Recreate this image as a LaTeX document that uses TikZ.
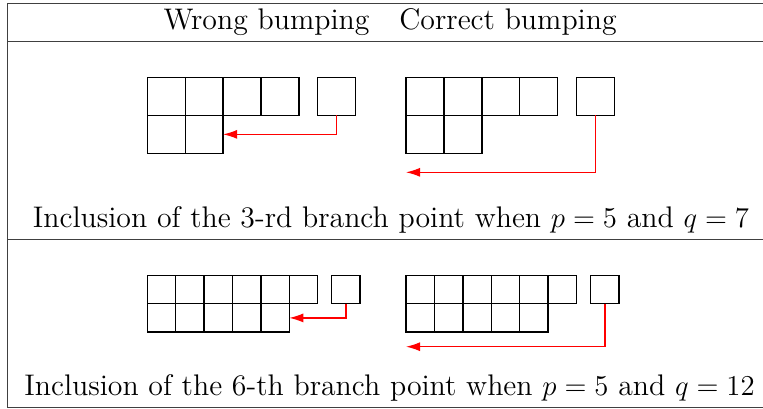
\documentclass[tikz,border=0pt]{standalone}
\usepackage{amsmath}
\usetikzlibrary{arrows.meta,positioning}
\definecolor{bump}{HTML}{FF0000}

\begin{document}
\begin{tikzpicture}[x=0.5pt, y=-0.5pt,
  big/.style={draw, line width=0.7pt, minimum size=18.95pt, inner sep=0pt, outer sep=0pt, anchor=north west},
  small/.style={big, minimum size=14.2pt},
  lbl/.style={font=\fontsize{14.9}{17.5}\selectfont, inner sep=0pt},
  arr/.style={-{Latex[length=7pt,width=4.5pt]}, line width=0.6pt, bump},
  rule/.style={line width=0.5pt, black!75}]
  \useasboundingbox (0,0) rectangle (763,408);
  % table frame
  \draw[rule] (763,3.7) -- (7.3,3.7) -- (7.3,407) -- (763,407);
  \draw[rule] (7.3,41.3) -- (763,41.3);
  \draw[rule] (7.3,239) -- (763,239);
  \node[lbl] (hw) at (266.5,22) {Wrong bumping};
  \node[lbl] (hc) at (508,22) {Correct bumping};
  % 3-rd branch point
  \foreach \i in {1,...,4} {
    \node[big] (wa\i) at (147.3+37.9*\i-37.9,77.5) {};
    \node[big] (ca\i) at (406+37.9*\i-37.9,77.5) {};
  }
  \foreach \i in {1,2} {
    \node[big] (wb\i) at (147.3+37.9*\i-37.9,115.4) {};
    \node[big] (cb\i) at (406+37.9*\i-37.9,115.4) {};
  }
  \node[big] (wn) at (317.7,77.5) {};
  \node[big] (cn) at (576.7,77.5) {};
  \coordinate (cend) at (406,172.3);
  \draw[arr] (wn.south) |- (wb2.east);
  \draw[arr] (cn.south) |- (cend);
  \node[lbl] (cap1) at (391,220) {Inclusion of the 3-rd branch point when $p=5$ and $q=7$};
  % 6-th branch point
  \foreach \i in {1,...,6} {
    \node[small] (wc\i) at (147.3+28.4*\i-28.4,275.3) {};
    \node[small] (cc\i) at (406+28.4*\i-28.4,275.3) {};
  }
  \foreach \i in {1,...,5} {
    \node[small] (wd\i) at (147.3+28.4*\i-28.4,303.7) {};
    \node[small] (cd\i) at (406+28.4*\i-28.4,303.7) {};
  }
  \node[small] (wm) at (331.7,275.3) {};
  \node[small] (cm) at (590.7,275.3) {};
  \coordinate (cend2) at (406,346.7);
  \draw[arr] (wm.south) |- (wd5.east);
  \draw[arr] (cm.south) |- (cend2);
  \node[lbl] (cap2) at (389.5,388) {Inclusion of the 6-th branch point when $p=5$ and $q=12$};
\end{tikzpicture}
\end{document}
